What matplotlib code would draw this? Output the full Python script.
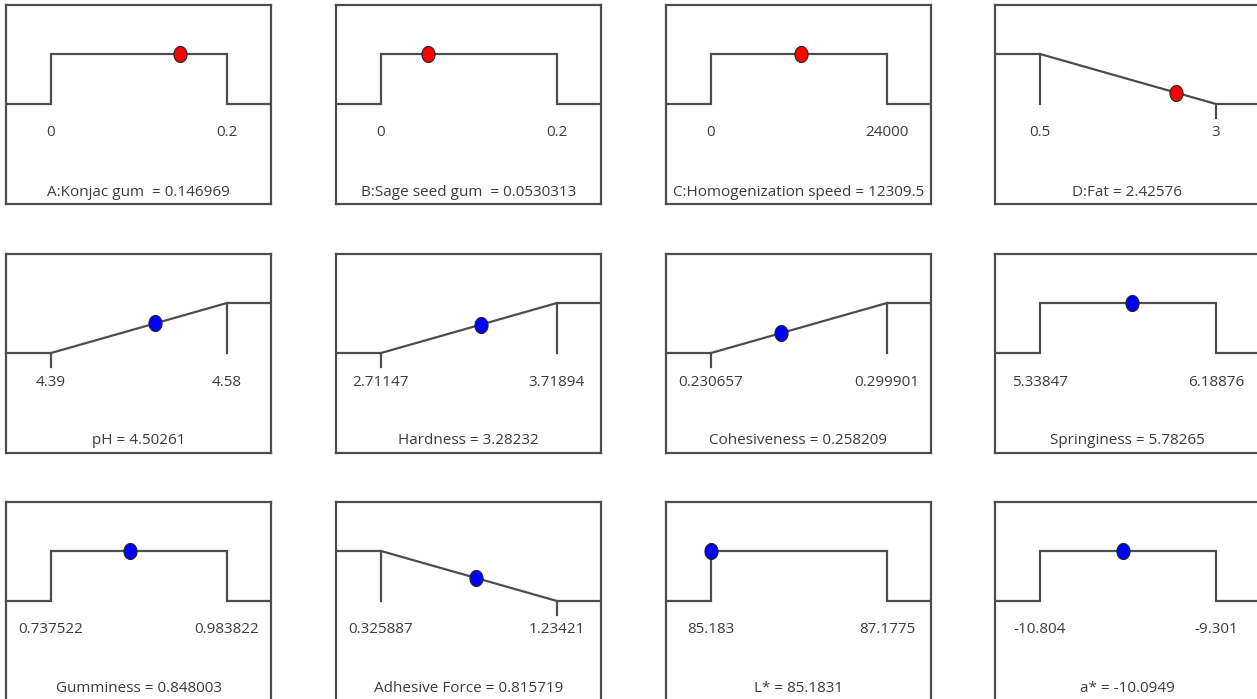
import matplotlib
matplotlib.use("Agg")
import matplotlib.pyplot as plt
from matplotlib.path import Path
import numpy as np

plt.rcParams['font.family'] = ['Open Sans', 'DejaVu Sans']

# Factors and responses of the optimisation, with their ranges and the optimum
names = ["A:Konjac gum  ", "B:Sage seed gum  ", "C:Homogenization speed ", "D:Fat ",
         "pH ", "Hardness ", "Cohesiveness ", "Springiness ",
         "Gumminess ", "Adhesive Force ", "L* ", "a* "]
low_labels = ["0", "0", "0", "0.5",
              "4.39", "2.71147", "0.230657", "5.33847",
              "0.737522", "0.325887", "85.183", "-10.804"]
high_labels = ["0.2", "0.2", "24000", "3",
               "4.58", "3.71894", "0.299901", "6.18876",
               "0.983822", "1.23421", "87.1775", "-9.301"]
value_labels = ["0.146969", "0.0530313", "12309.5", "2.42576",
                "4.50261", "3.28232", "0.258209", "5.78265",
                "0.848003", "0.815719", "85.1831", "-10.0949"]
goals = ["range", "range", "range", "min",
         "max", "max", "max", "range",
         "range", "min", "range", "range"]
is_factor = [True, True, True, True,
             False, False, False, False,
             False, False, False, False]

lows = [float(s) for s in low_labels]
highs = [float(s) for s in high_labels]
values = [float(s) for s in value_labels]

W, H, DPI = 1257, 699, 100
fig = plt.figure(figsize=(W / DPI, H / DPI), dpi=DPI)

col_left = [6, 336, 666, 995]
row_top = [5, 254, 502]
box_w, box_h = 265, 199
x_lo_px, x_hi_px = 45, 221          # pixel offsets of low/high inside a panel
y_top_px, y_base_px = 49, 99        # desirability 1 and 0 (offset from panel top)

line_c = "#4d4d4d"
text_c = "#3c3c3c"
lw = 1.6
fs = 11

# slightly upright elliptical dot
t = np.linspace(0, 2 * np.pi, 60)
ellipse = Path(np.column_stack([0.82 * np.cos(t), np.sin(t)]), closed=True)

for i in range(12):
    r, c = divmod(i, 4)
    left = col_left[c] / W
    bottom = 1 - (row_top[r] + box_h) / H
    ax = fig.add_axes([left, bottom, box_w / W, box_h / H])

    lo, hi, v = lows[i], highs[i], values[i]
    span = hi - lo
    xl = lo - x_lo_px / (x_hi_px - x_lo_px) * span
    xr = lo + (box_w - x_lo_px) / (x_hi_px - x_lo_px) * span
    ax.set_xlim(xl, xr)
    unit = y_base_px - y_top_px
    ax.set_ylim(-(box_h - y_base_px) / unit, 1 + y_top_px / unit)

    tick = 14 / unit
    g = goals[i]
    if g == "range":
        ax.plot([xl, lo, lo, hi, hi, xr], [0, 0, 1, 1, 0, 0], color=line_c, lw=lw,
                solid_joinstyle="miter")
        d = 1.0
    elif g == "max":
        ax.plot([xl, lo, hi, xr], [0, 0, 1, 1], color=line_c, lw=lw)
        ax.plot([lo, lo], [0, -tick], color=line_c, lw=lw)
        ax.plot([hi, hi], [1, 0], color=line_c, lw=lw)
        d = (v - lo) / span
    else:
        ax.plot([xl, lo, hi, xr], [1, 1, 0, 0], color=line_c, lw=lw)
        ax.plot([lo, lo], [1, 0], color=line_c, lw=lw)
        ax.plot([hi, hi], [0, -tick], color=line_c, lw=lw)
        d = (hi - v) / span

    color = "#ff0000" if is_factor[i] else "#0000ff"
    ax.plot([v], [d], marker=ellipse, markersize=11.5, markerfacecolor=color,
            markeredgecolor="#222222", markeredgewidth=0.8, linestyle="none",
            zorder=5, clip_on=False)

    ty = (box_h - 128) / box_h
    ax.text(lo, ty, low_labels[i], transform=ax.get_xaxis_transform(),
            ha="center", va="center", fontsize=fs, color=text_c)
    ax.text(hi, ty, high_labels[i], transform=ax.get_xaxis_transform(),
            ha="center", va="center", fontsize=fs, color=text_c)
    ax.text(0.5, (box_h - 187) / box_h, f"{names[i]}= {value_labels[i]}",
            transform=ax.transAxes, ha="center", va="center",
            fontsize=fs, color=text_c)

    ax.set_xticks([])
    ax.set_yticks([])
    for s in ax.spines.values():
        s.set_color(line_c)
        s.set_linewidth(lw)

fig.savefig("out.png", dpi=DPI)
